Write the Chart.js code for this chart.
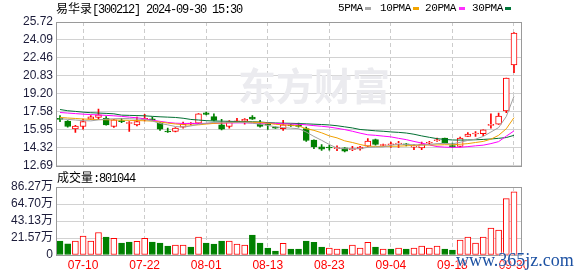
<!DOCTYPE html>
<html>
<head>
<meta charset="utf-8">
<script src="https://cdn.jsdelivr.net/npm/chart.js@4.4.1/dist/chart.umd.min.js"></script>
<style>
  html, body { margin: 0; padding: 0; background: #fff; }
  #wrap { position: relative; width: 578px; height: 276px; overflow: hidden; }
  canvas { position: absolute; left: 0; }
  #kc { top: 0; }
  #vc { top: 170px; }
  .t { position: absolute; font: 12px/14px 'Liberation Mono', 'Noto Sans CJK SC', monospace; letter-spacing: -1.2px; color: #000; white-space: nowrap; }
  .t .cjk { font-family: 'Noto Sans CJK SC', sans-serif; letter-spacing: 0; }
  .lg { font-size: 11px; letter-spacing: -0.4px; }
  .box { position: absolute; top: 7px; width: 6px; height: 3px; }
  #site { position: absolute; left: 456px; top: 250px; font: 18px/20px 'Liberation Serif', serif; color: #1d52a3; white-space: nowrap;
          text-shadow: 0 0 2px #fff, 0 0 2px #fff; }
</style>
</head>
<body>
<div id="wrap">
  <canvas id="kc" width="578" height="176"></canvas>
  <canvas id="vc" width="578" height="106"></canvas>
  <div class="t" style="left:56px;top:1px"><span class="cjk">易华录</span>[300212] 2024-09-30 15:30</div>
  <div class="t lg" style="left:338px;top:1px">5PMA</div><div class="box" style="left:365px;background:#a8a8a8"></div>
  <div class="t lg" style="left:380px;top:1px">10PMA</div><div class="box" style="left:413px;background:#f2a400"></div>
  <div class="t lg" style="left:425px;top:1px">20PMA</div><div class="box" style="left:459px;background:#ff2eff"></div>
  <div class="t lg" style="left:472px;top:1px">30PMA</div><div class="box" style="left:505px;background:#00763a"></div>
  <div class="t" style="left:57px;top:170px"><span class="cjk">成交量</span>:801044</div>
  <div id="site">www.365jz.com</div>
</div>
<script>
'use strict';

// trading days shown, 07-05 .. 09-30
const DATES = [
  '07-05','07-08','07-09','07-10','07-11','07-12','07-15','07-16','07-17','07-18','07-19',
  '07-22','07-23','07-24','07-25','07-26','07-29','07-30','07-31',
  '08-01','08-02','08-05','08-06','08-07','08-08','08-09','08-12','08-13','08-14','08-15',
  '08-16','08-19','08-20','08-21','08-22','08-23','08-26','08-27','08-28','08-29','08-30',
  '09-02','09-03','09-04','09-05','09-06','09-09','09-10','09-11','09-12','09-13',
  '09-18','09-19','09-20','09-23','09-24','09-25','09-26','09-27','09-30'
];
const TICK_DATES = ['07-10','07-22','08-01','08-13','08-23','09-04','09-18','09-30'];

const OPEN  = [16.93,16.75,16.04,16.25,16.92,17.07,17.00,16.25,16.75,16.52,16.40,16.85,16.95,16.55,15.80,
               15.80,16.20,16.48,16.55,17.50,17.15,16.40,16.25,16.65,16.75,17.10,16.50,16.42,16.20,16.05,
               16.40,16.35,16.07,15.02,14.41,14.34,14.24,14.32,14.15,14.23,14.47,15.07,14.53,14.60,14.65,
               14.65,14.38,14.30,14.73,14.96,15.20,14.46,14.44,15.35,15.57,15.60,16.35,16.47,17.67,21.84];
const CLOSE = [16.90,16.25,16.30,16.70,17.12,17.30,16.40,16.86,16.70,16.58,16.70,17.00,16.85,16.00,15.75,
               16.10,16.45,16.52,17.40,17.35,16.80,16.00,16.70,16.77,16.90,16.92,16.25,16.38,16.10,16.40,
               16.30,16.25,14.98,14.41,14.20,14.30,14.28,14.02,14.18,14.38,14.93,14.62,14.57,14.63,14.68,
               14.60,14.48,14.65,14.76,14.99,14.75,14.43,15.20,15.56,15.60,15.95,16.45,17.19,20.63,24.72];
const HIGH  = [17.25,16.78,16.35,16.92,17.25,17.83,17.15,16.90,17.00,16.70,17.10,17.35,17.10,16.60,16.10,
               16.15,16.65,16.60,17.42,17.55,17.40,16.90,16.78,17.00,16.98,17.25,16.80,16.50,16.22,16.80,
               16.45,16.55,16.20,15.05,14.62,14.55,14.50,14.35,14.45,14.45,15.15,15.10,14.65,14.85,14.90,
               14.70,14.62,14.85,14.90,15.20,15.20,14.75,15.30,15.70,15.80,15.95,17.40,17.46,20.63,24.76];
const LOW   = [16.68,16.20,15.72,16.00,16.90,16.86,16.38,16.16,16.60,15.80,16.30,16.75,16.80,15.90,15.72,
               15.75,16.10,16.40,16.50,17.30,16.75,15.95,16.10,16.60,16.46,16.90,16.20,15.98,16.08,15.90,
               16.25,16.20,14.90,14.25,14.08,14.10,14.05,13.95,14.05,14.10,14.40,14.55,14.50,14.35,14.35,
               14.50,14.15,14.15,14.60,14.90,14.75,14.35,14.40,15.35,15.35,15.42,16.10,16.45,17.50,21.14];

const MA5  = [16.95,16.90,16.84,16.78,16.76,16.85,16.92,16.95,16.98,16.96,16.92,16.89,16.75,16.53,16.40,
              16.25,16.20,16.30,16.45,16.55,16.62,16.64,16.64,16.63,16.62,16.55,16.46,16.35,16.22,16.15,
              16.10,16.05,15.75,15.35,15.00,14.62,14.30,14.24,14.22,14.25,14.36,14.38,14.40,14.55,14.65,
              14.62,14.60,14.58,14.62,14.70,14.72,14.68,14.82,14.99,15.10,15.35,15.75,16.15,17.16,18.99];
const MA10 = [17.07,17.02,16.98,16.93,16.90,16.88,16.86,16.84,16.83,16.81,16.79,16.77,16.74,16.66,16.56,
              16.48,16.42,16.38,16.40,16.47,16.53,16.57,16.60,16.63,16.64,16.63,16.62,16.55,16.45,16.40,
              16.36,16.30,16.05,15.90,15.68,15.40,15.22,14.95,14.80,14.62,14.47,14.45,14.45,14.46,14.47,
              14.50,14.54,14.56,14.58,14.58,14.60,14.60,14.64,14.70,14.80,14.90,15.10,15.45,16.05,17.05];
const MA20 = [17.52,17.47,17.42,17.37,17.33,17.30,17.26,17.22,17.17,17.10,17.04,16.95,16.82,16.72,16.62,
              16.55,16.53,16.53,16.53,16.53,16.54,16.55,16.57,16.58,16.58,16.57,16.55,16.54,16.53,16.50,
              16.47,16.45,16.40,16.33,16.27,16.20,16.09,15.97,15.82,15.65,15.50,15.45,15.38,15.31,15.18,
              15.06,14.90,14.75,14.58,14.43,14.38,14.36,14.37,14.43,14.50,14.56,14.70,14.88,15.38,15.85];
const MA30 = [17.79,17.68,17.62,17.55,17.50,17.47,17.44,17.40,17.28,17.26,17.24,17.22,17.17,17.13,17.10,
              17.07,17.00,16.89,16.84,16.78,16.75,16.73,16.72,16.70,16.69,16.68,16.66,16.60,16.57,16.55,
              16.54,16.52,16.49,16.46,16.43,16.39,16.32,16.22,16.12,15.98,15.92,15.86,15.82,15.76,15.72,
              15.66,15.55,15.40,15.27,15.15,15.08,15.03,15.02,15.03,15.05,15.08,15.12,15.18,15.25,15.45];

const VOLUME = [177000,143000,177000,240000,177000,286000,227000,211000,152000,164000,173000,211000,164000,152000,114000,
                126000,126000,101000,227000,152000,139000,177000,177000,139000,126000,253000,152000,88000,51000,147000,
                74000,76000,177000,160000,101000,88000,76000,76000,126000,88000,160000,101000,76000,76000,88000,
                76000,88000,114000,88000,114000,76000,63000,189000,227000,152000,227000,341000,316000,716000,801044];
// colour of each volume bar as drawn (true = red)
const VOL_UP = [0,0,1,1,1,1,0,1,0,0,1,1,0,0,0,1,1,0,1,0,0,0,1,1,1,0,0,0,0,1,
                0,0,0,0,0,1,1,0,1,1,1,0,1,0,1,0,1,1,1,1,0,0,1,1,1,1,1,1,1,1];

const PRICE_TICKS = [12.69, 14.32, 15.95, 17.58, 19.20, 20.83, 22.46, 24.09, 25.72];
const VOL_TICKS = [0, 215675, 431350, 647025, 862700];
const VOL_LABELS = ['0', '21.57万', '43.13万', '64.70万', '86.27万'];

const RED = '#ff0000', GREEN = '#008000';
const FONT = { family: "'Liberation Sans', 'Noto Sans CJK SC', sans-serif", size: 12 };
const X_MIN = -0.52, X_MAX = 60.04;
const tickIdx = TICK_DATES.map(d => DATES.indexOf(d));

const isUp = i => CLOSE[i] >= OPEN[i];
const pts = arr => arr.map((v, i) => ({ x: i, y: v }));

// plot frame + watermark
const frame = {
  id: 'frame',
  beforeDatasetsDraw(c, args, opts) {
    if (!opts.mark) return;
    const ctx = c.ctx;
    ctx.save();
    ctx.fillStyle = '#ebebef';
    ctx.font = "bold 38px 'Noto Sans CJK SC'";
    ctx.textBaseline = 'middle';
    ctx.fillText('东方财富', 238, 86);
    ctx.restore();
  },
  afterDatasetsDraw(c) {
    const { ctx, chartArea: a } = c;
    ctx.save();
    ctx.strokeStyle = '#9a9a9a';
    ctx.lineWidth = 1;
    ctx.strokeRect(Math.round(a.left) + 0.5, Math.round(a.top) + 0.5,
                   Math.round(a.right - a.left) - 1, Math.round(a.bottom - a.top));
    ctx.restore();
  }
};

function xScale(showLabels, height) {
  return {
    type: 'linear', min: X_MIN, max: X_MAX, offset: false,
    afterBuildTicks: s => { s.ticks = tickIdx.map(v => ({ value: v })); },
    afterFit: s => { s.height = height; },
    ticks: {
      display: showLabels, color: RED, font: FONT, padding: 3,
      maxRotation: 0, autoSkip: false, callback: v => DATES[v]
    },
    grid: { color: '#cccccc', drawTicks: false, offset: false },
    border: { display: false, dash: [4, 3] }
  };
}

function yScale(min, max, ticks, label) {
  return {
    min, max,
    afterBuildTicks: s => { s.ticks = ticks.map(v => ({ value: v })); },
    afterFit: s => { s.width = 56; },
    ticks: { color: '#1c1c3a', font: FONT, padding: 3, autoSkip: false, callback: label },
    grid: { color: '#d2d2d2', drawTicks: false },
    border: { display: false }
  };
}

const maLine = (data, color) => ({
  type: 'line', data: pts(data), borderColor: color, borderWidth: 1,
  pointRadius: 0, tension: 0, order: 0
});

// ── K line ──────────────────────────────────────────────────────────────────

new Chart(document.getElementById('kc'), {
  type: 'bar',
  data: {
    datasets: [
      maLine(MA5, '#a0a0a0'),
      maLine(MA10, '#f0a000'),
      maLine(MA20, '#ff00ff'),
      maLine(MA30, '#006f32'),
      {
        data: OPEN.map((o, i) => ({ x: i, y: [o, CLOSE[i]] })),
        backgroundColor: OPEN.map((o, i) => isUp(i) ? '#ffffff' : GREEN),
        borderColor: OPEN.map((o, i) => isUp(i) ? RED : GREEN),
        borderWidth: 1, borderSkipped: false, barThickness: 6,
        minBarLength: 1, grouped: false, order: 1
      },
      {
        data: LOW.map((l, i) => ({ x: i, y: [l, HIGH[i]] })),
        backgroundColor: OPEN.map((o, i) => isUp(i) ? RED : GREEN),
        borderWidth: 0, barThickness: 1, grouped: false, order: 2
      }
    ]
  },
  options: {
    responsive: false, animation: false,
    layout: { padding: { top: 22, right: 56, left: 0, bottom: 0 } },
    plugins: { legend: { display: false }, tooltip: { enabled: false }, frame: { mark: true } },
    scales: {
      x: xScale(false, 10),
      y: yScale(12.69, 25.72, PRICE_TICKS, v => v.toFixed(2))
    }
  },
  plugins: [frame]
});

// ── Volume ──────────────────────────────────────────────────────────────────

new Chart(document.getElementById('vc'), {
  type: 'bar',
  data: {
    datasets: [{
      data: pts(VOLUME),
      backgroundColor: VOL_UP.map(u => u ? '#ffffff' : GREEN),
      borderColor: VOL_UP.map(u => u ? RED : GREEN),
      borderWidth: 1, borderSkipped: false, barThickness: 6, grouped: false
    }]
  },
  options: {
    responsive: false, animation: false,
    layout: { padding: { top: 17, right: 56, left: 0, bottom: 0 } },
    plugins: { legend: { display: false }, tooltip: { enabled: false }, frame: { mark: false } },
    scales: {
      x: xScale(true, 21),
      y: yScale(0, 862700, VOL_TICKS, (v, i) => VOL_LABELS[i])
    }
  },
  plugins: [frame]
});
</script>
</body>
</html>
